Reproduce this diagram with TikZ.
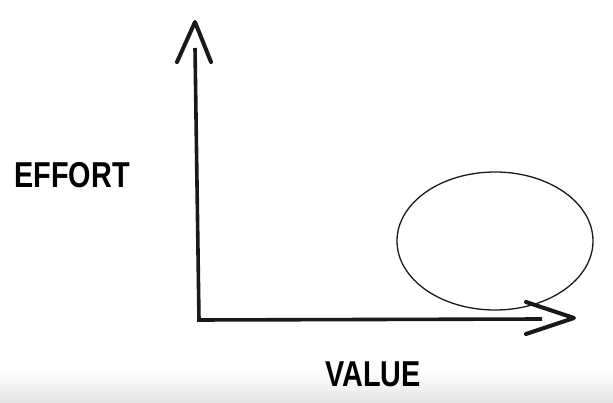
\documentclass[tikz,border=0pt]{standalone}
\usepackage{fontspec}
\newfontfamily\handfont[FakeStretch=0.8]{Liberation Sans}
\usetikzlibrary{shapes.geometric}

\begin{document}
\begin{tikzpicture}[
  x=1pt,y=-1pt,
  axis/.style={line width=3.6pt,draw=black!90},
  tip/.style={line width=4pt,draw=black!90,line cap=round,line join=round},
  lab/.style={font=\handfont\bfseries\fontsize{36}{36}\selectfont,inner sep=0pt},
  blob/.style={ellipse,draw=black!90,line width=1.3pt,minimum width=196pt,
               minimum height=138pt,inner sep=0pt}
]
\useasboundingbox (0,0) rectangle (613,403);

% ---- fundal (umbra de jos) ----
\shade[top color=white,bottom color=black!11] (0,372) rectangle (613,403);

% ---- axe ----
\coordinate (origin) at (199,320);
\coordinate (ytop) at (195,48);
\coordinate (yend) at (195,22);
\coordinate (xtop) at (542,319);
\coordinate (xend) at (574,318);

\draw[axis] (origin) -- (ytop);
\draw[axis] ([xshift=-1.8pt]origin) -- (xtop);

% varfuri deschise
\draw[tip] (177,62) -- (yend) -- (211,62);
\draw[tip] (526,302) -- (xend) -- (526,334);

% ---- zona ----
\node[blob] (zone) at (495,241) {};

% ---- etichete ----
\node[lab] (effort) at (72,175) {EFFORT};
\node[lab] (value) at (373,374) {VALUE};

\end{tikzpicture}
\end{document}
